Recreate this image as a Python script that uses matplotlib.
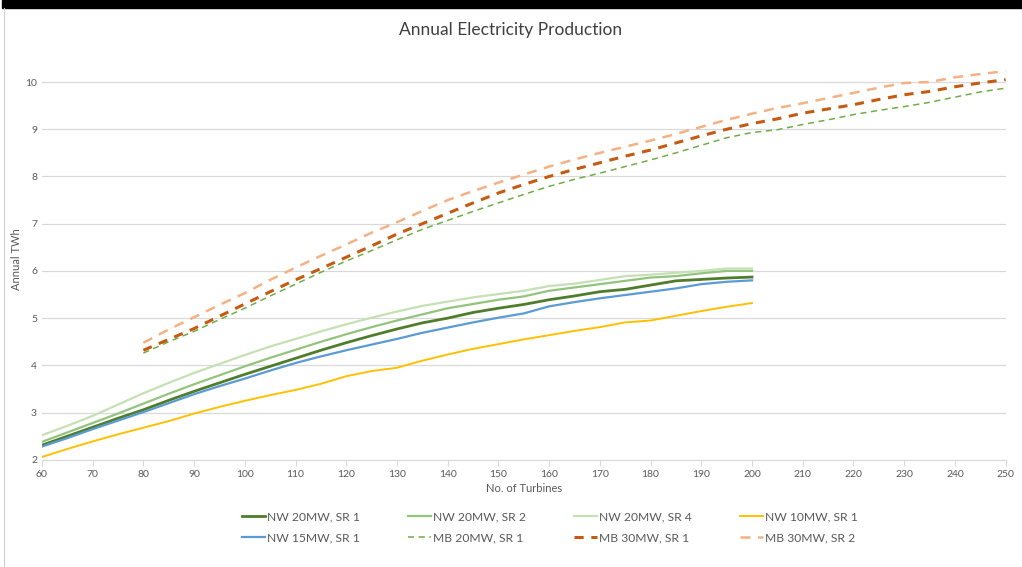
#!/usr/bin/env python
"""Annual electricity production vs number of turbines"""

import numpy as np
from matplotlib import pyplot as plt
from matplotlib.patches import Rectangle
from matplotlib.lines import Line2D

# turbines, 5-step
nw_turbines = list(range(60, 205, 5))
mb_turbines = list(range(80, 255, 5))

nw20_sr1 = [2.31, 2.50, 2.69, 2.88, 3.06, 3.26, 3.45, 3.63, 3.81, 3.98, 4.15, 4.32, 4.48,
            4.63, 4.77, 4.90, 5.00, 5.12, 5.21, 5.29, 5.39, 5.47, 5.56, 5.61, 5.70, 5.79,
            5.82, 5.85, 5.87]
nw20_sr2 = [2.38, 2.58, 2.78, 2.98, 3.19, 3.40, 3.60, 3.79, 3.98, 4.16, 4.33, 4.50, 4.66,
            4.81, 4.95, 5.08, 5.21, 5.30, 5.39, 5.46, 5.58, 5.65, 5.72, 5.79, 5.86, 5.89,
            5.95, 6.00, 6.00]
nw20_sr4 = [2.52, 2.72, 2.93, 3.17, 3.41, 3.63, 3.84, 4.03, 4.22, 4.40, 4.56, 4.72, 4.87,
            5.01, 5.14, 5.26, 5.35, 5.44, 5.51, 5.58, 5.68, 5.73, 5.81, 5.89, 5.92, 5.96,
            6.00, 6.05, 6.05]
nw10_sr1 = [2.06, 2.23, 2.39, 2.54, 2.68, 2.82, 2.98, 3.12, 3.25, 3.37, 3.48, 3.61, 3.77,
            3.88, 3.95, 4.10, 4.23, 4.35, 4.45, 4.55, 4.64, 4.73, 4.81, 4.91, 4.95, 5.05,
            5.15, 5.24, 5.32]
nw15_sr1 = [2.28, 2.46, 2.65, 2.83, 3.01, 3.20, 3.39, 3.56, 3.72, 3.89, 4.05, 4.19, 4.32,
            4.44, 4.56, 4.69, 4.80, 4.91, 5.01, 5.10, 5.25, 5.34, 5.42, 5.49, 5.56, 5.63,
            5.72, 5.77, 5.80]
mb20_sr1 = [4.26, 4.50, 4.72, 4.97, 5.21, 5.47, 5.72, 5.97, 6.21, 6.43, 6.66, 6.88, 7.07,
            7.26, 7.44, 7.62, 7.79, 7.94, 8.07, 8.21, 8.35, 8.50, 8.66, 8.82, 8.93, 8.99,
            9.10, 9.20, 9.31, 9.40, 9.48, 9.57, 9.68, 9.79, 9.87]
mb30_sr1 = [4.32, 4.55, 4.78, 5.04, 5.30, 5.56, 5.81, 6.05, 6.29, 6.53, 6.78, 7.00, 7.22,
            7.44, 7.65, 7.83, 8.00, 8.15, 8.29, 8.43, 8.56, 8.71, 8.86, 9.00, 9.12, 9.22,
            9.34, 9.43, 9.52, 9.63, 9.73, 9.80, 9.90, 9.98, 10.05]
mb30_sr2 = [4.48, 4.76, 5.02, 5.28, 5.53, 5.81, 6.07, 6.32, 6.56, 6.81, 7.03, 7.27, 7.50,
            7.69, 7.87, 8.04, 8.21, 8.36, 8.50, 8.63, 8.76, 8.90, 9.05, 9.20, 9.33, 9.45,
            9.55, 9.66, 9.77, 9.88, 9.98, 10.00, 10.10, 10.17, 10.23]

xticks = list(range(60, 260, 10))
yticks = list(range(2, 11))


def main():
    plt.rcParams['font.family'] = ['Lato', 'DejaVu Sans']
    fig = plt.figure(figsize=(10.22, 5.67), dpi=100)
    ax = fig.add_axes([0.041, 0.189, 0.943, 0.708])

    # frame bits from the screenshot
    fig.patches.append(Rectangle((0.002, 0.986), 0.998, 0.014, transform=fig.transFigure,
                                 color='black', zorder=0))
    fig.lines.append(Line2D([0.004, 0.004], [0.0, 0.986], transform=fig.transFigure,
                            color='#d0d0d0', lw=0.8))

    ax.plot(nw_turbines, nw20_sr1, color='#4f7d2c', lw=2.0, label='NW 20MW, SR 1')
    ax.plot(nw_turbines, nw20_sr2, color='#93c47d', lw=1.6, label='NW 20MW, SR 2')
    ax.plot(nw_turbines, nw20_sr4, color='#c5e0b4', lw=1.6, label='NW 20MW, SR 4')
    ax.plot(nw_turbines, nw10_sr1, color='#ffc000', lw=1.4, label='NW 10MW, SR 1')
    ax.plot(nw_turbines, nw15_sr1, color='#5b9bd5', lw=1.6, label='NW 15MW, SR 1')
    ax.plot(mb_turbines, mb20_sr1, color='#70ad47', lw=1.1, ls=(0, (4, 3)), label='MB 20MW, SR 1')
    ax.plot(mb_turbines, mb30_sr1, color='#c55a11', lw=2.2, ls=(0, (3, 2.5)), label='MB 30MW, SR 1')
    ax.plot(mb_turbines, mb30_sr2, color='#f4b183', lw=1.8, ls=(0, (4, 3)), label='MB 30MW, SR 2')

    ax.set_xlim(60, 250)
    ax.set_ylim(2, 10.5)
    ax.set_xticks(xticks)
    ax.set_yticks(yticks)
    ax.grid(axis='y', color='#d9d9d9', lw=0.9)
    ax.set_axisbelow(True)
    for s in ['top', 'right', 'left']:
        ax.spines[s].set_visible(False)
    ax.spines['bottom'].set_color('#d9d9d9')
    ax.tick_params(axis='x', colors='#d9d9d9', length=4, labelcolor='#595959', labelsize=7.5)
    ax.tick_params(axis='y', length=0, labelcolor='#595959', labelsize=7.5)

    ax.set_xlabel('No. of Turbines', color='#595959', fontsize=8, labelpad=3)
    ax.set_ylabel('Annual TWh', color='#595959', fontsize=8, labelpad=2)
    fig.suptitle('Annual Electricity Production', color='#404040', fontsize=12.5, y=0.962)

    # legend filled row by row like the original
    handles, labels = ax.get_legend_handles_labels()
    order = [0, 4, 1, 5, 2, 6, 3, 7]
    fig.legend([handles[i] for i in order], [labels[i] for i in order],
               loc='center', bbox_to_anchor=(0.538, 0.070), ncol=4, frameon=False,
               fontsize=8.7, handlelength=1.9, handletextpad=0.15, columnspacing=4.0,
               labelspacing=0.8, labelcolor='#595959')

    fig.savefig('out.png', dpi=100)


if __name__ == '__main__':
    main()
